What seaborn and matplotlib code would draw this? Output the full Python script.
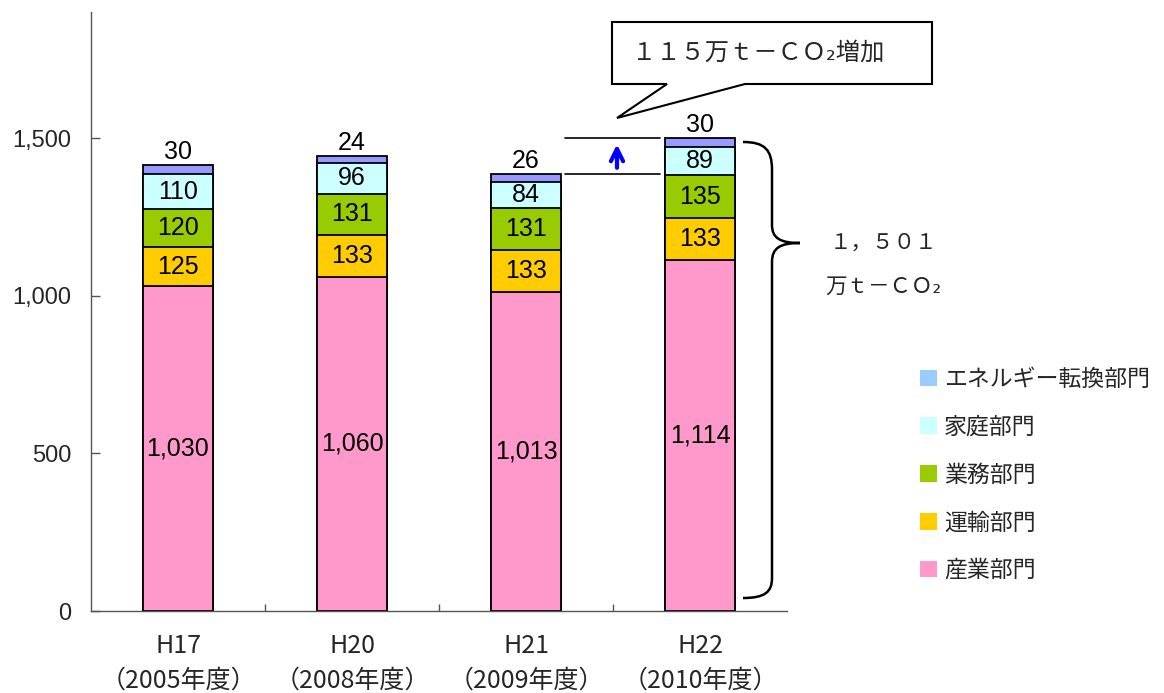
import numpy as np
import matplotlib
matplotlib.use("Agg")
import matplotlib.pyplot as plt
import seaborn as sns
from matplotlib.patches import Polygon, PathPatch, Patch
from matplotlib.path import Path
from matplotlib.ticker import FuncFormatter, FixedLocator

# ---- data (万t-CO2) ----
years = ["H17\n（2005年度）", "H20\n（2008年度）", "H21\n（2009年度）", "H22\n（2010年度）"]
sectors = ["産業部門", "運輸部門", "業務部門", "家庭部門", "エネルギー転換部門"]
industry = [1030, 1060, 1013, 1114]
transport = [125, 133, 133, 133]
business = [120, 131, 131, 135]
household = [110, 96, 84, 89]
energy = [30, 24, 26, 30]
bar_colors = ["#FF99CC", "#FFCC00", "#99CC00", "#CCFFFF", "#9999FF"]
legend_colors = ["#FF99CC", "#FFCC00", "#99CC00", "#CCFFFF", "#99CCFF"]
increase_label = "１１５万ｔ－ＣＯ₂増加"
total_label = ["１，５０１", "万ｔ－ＣＯ₂"]
yticks = [0, 500, 1000, 1500]

W, H = 1164, 693
sns.set_theme(style="ticks")
plt.rcParams["font.family"] = ["Liberation Sans", "Noto Sans CJK JP", "DejaVu Sans"]
cjk = ["Noto Sans CJK JP", "DejaVu Sans"]

fig = plt.figure(figsize=(W / 100, H / 100), dpi=100)
ax_l, ax_r, ax_b, ax_t = 91, 787, 611, 12
ax = fig.add_axes([ax_l / W, 1 - ax_b / H, (ax_r - ax_l) / W, (ax_b - ax_t) / H])

layers = np.array([industry, transport, business, household, energy])
cum = np.cumsum(layers, axis=0)

# stacked bars: draw cumulative heights from the top layer down
for i in reversed(range(len(sectors))):
    sns.barplot(x=years, y=cum[i], color=bar_colors[i], saturation=1, width=0.4,
                edgecolor="black", linewidth=1.3, ax=ax)

ax.set_xlim(-0.5, 3.5)
ax.set_ylim(0, 1900)

# segment value labels
for i in range(len(sectors)):
    for j in range(len(years)):
        v = layers[i][j]
        if i == len(sectors) - 1:
            ax.annotate(f"{v:,}", xy=(j, cum[i][j]), xytext=(0, 0.5), textcoords="offset points",
                        ha="center", va="bottom", fontsize=18, color="black")
        else:
            ax.text(j, cum[i][j] - v / 2, f"{v:,}", ha="center", va="center",
                    fontsize=18, color="black")

# axes styling
for s in ["top", "right"]:
    ax.spines[s].set_visible(False)
for s in ["left", "bottom"]:
    ax.spines[s].set_color("#555555")
    ax.spines[s].set_linewidth(1.0)
ax.yaxis.set_major_locator(FixedLocator(yticks))
ax.yaxis.set_major_formatter(FuncFormatter(lambda v, p: f"{int(v):,}"))
ax.tick_params(axis="y", direction="in", length=6.5, width=1, color="#555555",
               labelsize=17, pad=14)
ax.set_xticks(range(len(years)))
ax.set_xticklabels(years, fontsize=18, family=cjk, linespacing=1.42)
ax.tick_params(axis="x", which="major", length=0, pad=16)
ax.set_xticks([0.5, 1.5, 2.5], minor=True)
ax.tick_params(axis="x", which="minor", direction="in", length=5, width=1, color="#555555")
ax.set_xlabel("")
ax.set_ylabel("")


def to_data(px, py):
    return (px - ax_l) / 174.0 - 0.5, (ax_b - py) * 1900 / (ax_b - ax_t)


totals = cum[-1]

# level lines for H21 and H22 totals with increase arrow
lx0, _ = to_data(565, 0)
lx1, _ = to_data(660, 0)
for t in (totals[2], totals[3]):
    ax.plot([lx0, lx1], [t, t], color="black", lw=1.2, clip_on=False)
axx, _ = to_data(617, 0)
ax.annotate("", xy=(axx, totals[3] - 12), xytext=(axx, totals[2] + 10),
            arrowprops=dict(arrowstyle="->", color="#0000FF", lw=3, mutation_scale=22))

# callout box
pts_px = [(612, 22), (932, 22), (932, 84), (745, 84), (617, 118), (667, 84), (612, 84)]
callout = Polygon([to_data(*p) for p in pts_px], closed=True, facecolor="white",
                  edgecolor="black", lw=1.5, clip_on=False, zorder=5)
ax.add_patch(callout)
cx, cy = to_data(758, 53)
ax.text(cx, cy, increase_label, ha="center", va="center", fontsize=17.5,
        family=cjk, zorder=6)

# curly brace beside the H22 bar
brace_px = [(743, 142), (765, 142), (772, 150), (772, 170), (772, 225),
            (772, 238), (780, 243), (800, 243),
            (780, 243), (772, 248), (772, 262), (772, 578),
            (772, 592), (765, 598), (743, 598)]
codes = [Path.MOVETO, Path.CURVE4, Path.CURVE4, Path.CURVE4, Path.LINETO,
         Path.CURVE4, Path.CURVE4, Path.CURVE4,
         Path.CURVE4, Path.CURVE4, Path.CURVE4, Path.LINETO,
         Path.CURVE4, Path.CURVE4, Path.CURVE4]
brace = PathPatch(Path([to_data(*p) for p in brace_px], codes), facecolor="none",
                  edgecolor="black", lw=1.8, clip_on=False)
ax.add_patch(brace)
tx, ty1 = to_data(883, 243)
_, ty2 = to_data(883, 287)
ax.text(tx, ty1, total_label[0], ha="center", va="center", fontsize=15.5, family=cjk)
ax.text(tx, ty2, total_label[1], ha="center", va="center", fontsize=15.5, family=cjk)

# legend (top layer listed first)
handles = [Patch(facecolor=legend_colors[i], edgecolor="none", label=sectors[i])
           for i in reversed(range(len(sectors)))]
fig.legend(handles=handles, loc="upper left", bbox_to_anchor=(920 / W, 1 - 368 / H),
           frameon=False, handlelength=0.75, handleheight=0.75, handletextpad=0.3,
           labelspacing=1.08, borderpad=0, borderaxespad=0,
           prop={"family": cjk, "size": 16.5})

fig.savefig("out.png", dpi=100)
